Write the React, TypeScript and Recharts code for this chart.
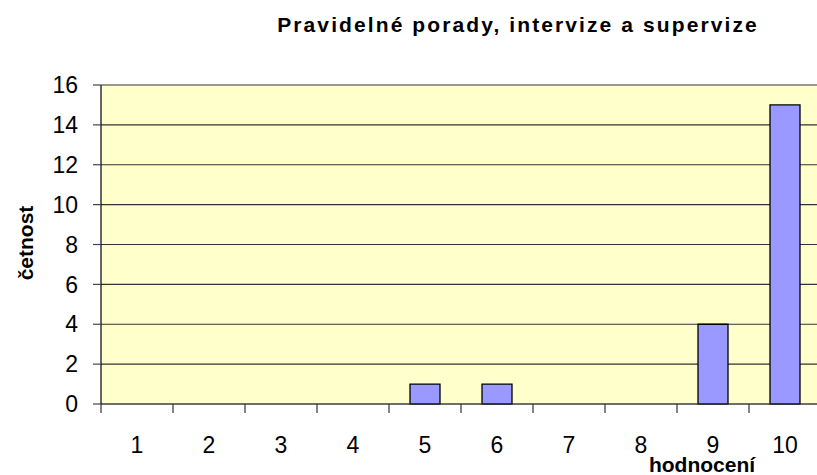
import { Bar, BarChart, CartesianGrid, XAxis, YAxis } from 'recharts'

const ratings = ['1', '2', '3', '4', '5', '6', '7', '8', '9', '10']
const counts = [0, 0, 0, 0, 1, 1, 0, 0, 4, 15]
const yTicks = [0, 2, 4, 6, 8, 10, 12, 14, 16]

const data = ratings.map((r, i) => ({ rating: r, count: counts[i] }))

const font = 'Liberation Sans, Arial, sans-serif'

function CategoryTick(props: any) {
  const { x, y, payload } = props
  const half = payload?.offset ?? 36
  return (
    <g>
      <line x1={x - half} x2={x - half} y1={y - 9} y2={y} stroke="#333" strokeWidth={1.2} />
      <text x={x} y={y + 40} textAnchor="middle" style={{ fontSize: 23, fontFamily: font }} fill="#000">
        {payload.value}
      </text>
    </g>
  )
}

export default function App() {
  return (
    <div
      style={{
        position: 'fixed',
        left: 0,
        top: 0,
        width: 817,
        height: 475,
        overflow: 'hidden',
        background: '#fff',
        fontFamily: font,
      }}
    >
      <BarChart
        width={830}
        height={475}
        data={data}
        margin={{ top: 85, right: 9, left: 0, bottom: 0 }}
        barSize={30}
      >
        <text
          x={518}
          y={32}
          textAnchor="middle"
          style={{ fontSize: 21, fontWeight: 'bold', fontFamily: font, letterSpacing: 2.1 }}
          fill="#000"
        >
          Pravidelné porady, intervize a supervize
        </text>
        <text
          x={33}
          y={243}
          textAnchor="middle"
          style={{ fontSize: 21, fontWeight: 'bold', fontFamily: font }}
          fill="#000"
          transform="rotate(-90, 33, 243)"
        >
          četnost
        </text>
        <text
          x={702}
          y={472}
          textAnchor="middle"
          style={{ fontSize: 21, fontWeight: 'bold', fontFamily: font }}
          fill="#000"
        >
          hodnocení
        </text>
        <CartesianGrid vertical={false} fill="#FFFFCC" stroke="#333" strokeWidth={1.2} />
        <XAxis
          dataKey="rating"
          height={71}
          tickLine={false}
          tickSize={9}
          tickMargin={0}
          axisLine={{ stroke: '#444', strokeWidth: 1.2 }}
          tick={<CategoryTick />}
          interval={0}
        />
        <YAxis
          width={101}
          domain={[0, 16]}
          ticks={yTicks}
          interval={0}
          tickSize={8}
          tickMargin={15}
          axisLine={{ stroke: '#000', strokeWidth: 1.2 }}
          tickLine={{ stroke: '#444', strokeWidth: 1.2 }}
          tick={{ fontSize: 23, fontFamily: font, fill: '#000' }}
        />
        <Bar dataKey="count" fill="#9999FF" stroke="#000" strokeWidth={1.3} isAnimationActive={false} />
      </BarChart>
    </div>
  )
}
